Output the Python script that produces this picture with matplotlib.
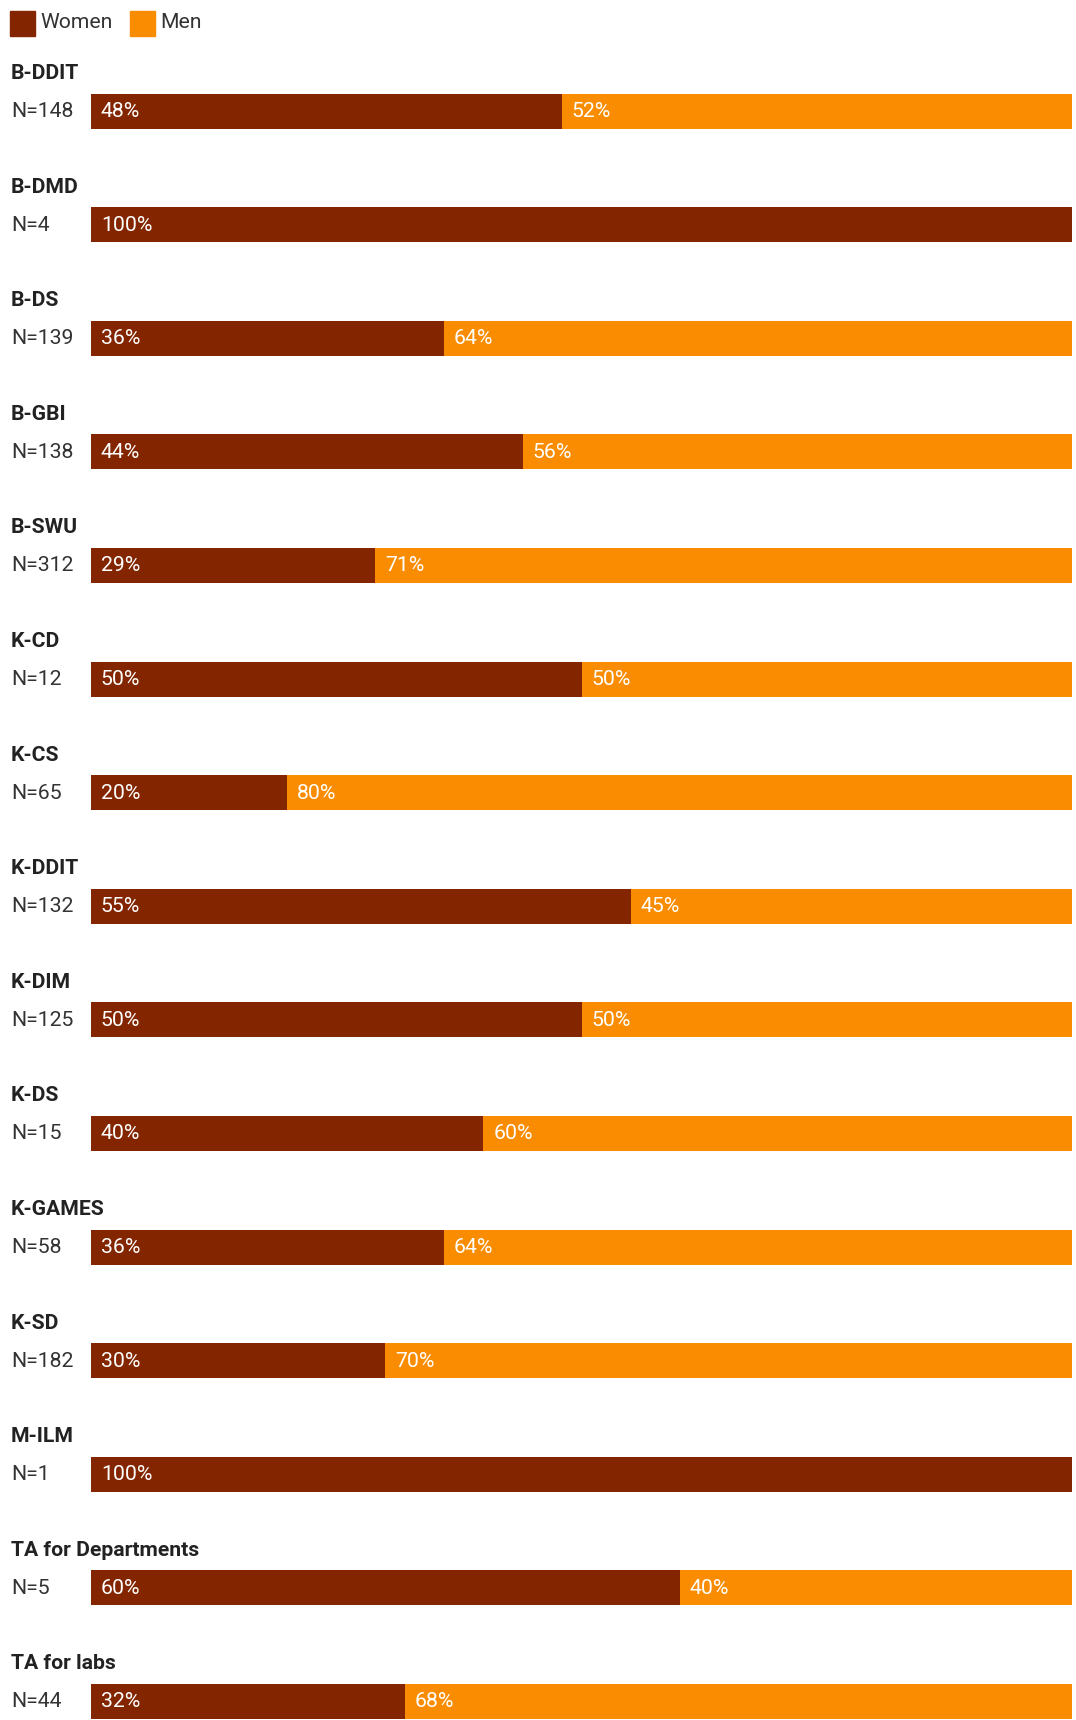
import matplotlib.pyplot as plt
import matplotlib.transforms as mtransforms
from matplotlib.patches import Rectangle

# data
categories = ['B-DDIT', 'B-DMD', 'B-DS', 'B-GBI', 'B-SWU', 'K-CD', 'K-CS', 'K-DDIT',
              'K-DIM', 'K-DS', 'K-GAMES', 'K-SD', 'M-ILM', 'TA for Departments', 'TA for labs']
counts = [148, 4, 139, 138, 312, 12, 65, 132, 125, 15, 58, 182, 1, 5, 44]
women = [48, 100, 36, 44, 29, 50, 20, 55, 50, 40, 36, 30, 100, 60, 32]
men = [52, 0, 64, 56, 71, 50, 80, 45, 50, 60, 64, 70, 0, 40, 68]

c_women = '#832600'
c_men = '#f98c00'

plt.rcParams['font.family'] = ['Roboto', 'DejaVu Sans']

W, H = 1076, 1720
fig = plt.figure(figsize=(W / 100, H / 100), dpi=100)

# layout in pixels
bar_left, bar_right = 91, 1072
first_center, pitch, bar_h = 111, 113.6, 35

ax = fig.add_axes([bar_left / W, 0, (bar_right - bar_left) / W, 1])
ax.set_xlim(0, 100)
ax.set_ylim((H - first_center) / pitch, -first_center / pitch)
ax.axis('off')

ys = list(range(len(categories)))
h = bar_h / pitch
ax.barh(ys, women, height=h, color=c_women, edgecolor='none')
ax.barh(ys, men, left=women, height=h, color=c_men, edgecolor='none')

trans = mtransforms.blended_transform_factory(fig.transFigure, ax.transData)
for i, y in enumerate(ys):
    ax.text(11 / W, y - 37.5 / pitch, categories[i], transform=trans, fontsize=15.2,
            fontweight='bold', color='#222222', va='center', ha='left')
    ax.text(11 / W, y + 0.5 / pitch, f'N={counts[i]}', transform=trans, fontsize=15.3,
            color='#333333', va='center', ha='left')
    if women[i] > 0:
        ax.text(1.0, y + 0.5 / pitch, f'{women[i]}%', fontsize=15.3, color='white',
                va='center', ha='left')
    if men[i] > 0:
        ax.text(women[i] + 1.0, y + 0.5 / pitch, f'{men[i]}%', fontsize=15.3, color='white',
                va='center', ha='left')

# legend
for x0, col, lab in [(10, c_women, 'Women'), (130, c_men, 'Men')]:
    fig.add_artist(Rectangle((x0 / W, 1 - 36 / H), 25 / W, 25 / H,
                             transform=fig.transFigure, color=col))
    fig.text((x0 + 30) / W, 1 - 22.5 / H, lab, fontsize=15.2, color='#333333',
             va='center', ha='left')

fig.savefig('out.png', dpi=100)
